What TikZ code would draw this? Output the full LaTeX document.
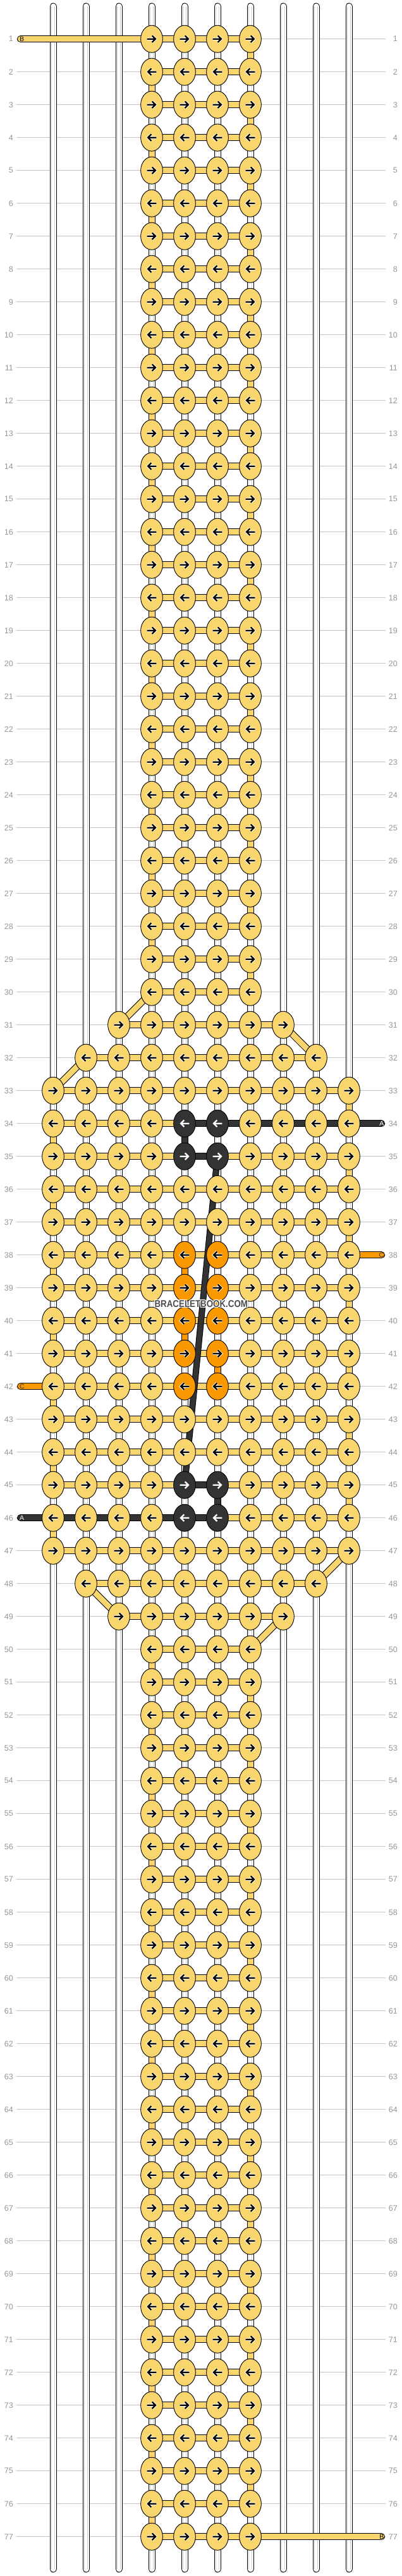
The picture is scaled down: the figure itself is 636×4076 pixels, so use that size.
\documentclass[tikz,border=0pt]{standalone}
\usepackage{fontspec}
\setmainfont{Liberation Sans}
\usepackage{graphicx}
\usetikzlibrary{shapes.geometric}
\definecolor{yel}{HTML}{F9D56E}
\definecolor{drk}{HTML}{333333}
\definecolor{org}{HTML}{FA9800}
\definecolor{rowgray}{HTML}{C3C3C3}
\definecolor{labgray}{HTML}{969696}
\definecolor{strandgray}{HTML}{CCCCCC}
\definecolor{wmgray}{HTML}{4D4D4D}
\pgfdeclarelayer{rowl}
\pgfdeclarelayer{strl}
\pgfdeclarelayer{conl}
\pgfdeclarelayer{fltl}
\pgfdeclarelayer{topl}
\pgfsetlayers{rowl,strl,conl,fltl,main,topl}
\newcommand\setrange[1]{%
  \ifnum#1<31 \def\kA{4}\else
  \ifnum#1>49 \def\kA{4}\else
  \ifnum#1=31 \def\kA{3}\else
  \ifnum#1=49 \def\kA{3}\else
  \ifnum#1=32 \def\kA{2}\else
  \ifnum#1=48 \def\kA{2}\else
  \def\kA{1}\fi\fi\fi\fi\fi\fi
  \pgfmathtruncatemacro\kB{11-\kA}}
\begin{document}
\begin{tikzpicture}[x=1pt,y=-1pt,
  knot/.style={ellipse, draw=black, line width=0.9pt, minimum width=34.7pt, minimum height=43pt, inner sep=0pt},
  bar/.style={draw=black, line width=1pt, double=#1, double distance=9pt},
  endbar/.style={bar=#1, line cap=round},
  strand/.style={draw=black, line width=1pt, double=white, double distance=9pt, line cap=round},
  strandin/.style={draw=strandgray, line width=0.8pt},
  rowline/.style={draw=rowgray, line width=1pt},
  rowlab/.style={text=labgray, font=\fontsize{12.5}{14}\selectfont, inner sep=0pt},
  endlab/.style={font=\fontsize{10.5}{12}\selectfont, inner sep=0pt},
  arrowline/.style={line width=2.3pt, line cap=butt, line join=miter},
  floatline/.style={draw=black, line width=1pt, double=drk, double distance=8pt},
  wm/.style={font=\bfseries\fontsize{15.5}{17}\selectfont, inner sep=0pt},
]
\useasboundingbox (0,0) rectangle (636,4076);
% knots, arrows, row labels
\foreach \rw in {1,...,77}{
  \setrange{\rw}
  \pgfmathsetmacro\yy{61.7+(\rw-1)*52}
  \ifodd\rw \def\dir{1}\else \def\dir{-1}\fi
  \node[rowlab,anchor=east] (ll-\rw) at (21,\yy) {\rw};
  \node[rowlab,anchor=east] (lr-\rw) at (629,\yy) {\rw};
  \begin{pgfonlayer}{rowl}
    \draw[rowline] (26,\yy) -- (610,\yy);
  \end{pgfonlayer}
  \foreach \cl in {\kA,...,\kB}{
    \pgfmathsetmacro\xx{84+(\cl-1)*52}
    \def\kc{0}
    \ifnum\cl>4 \ifnum\cl<7
      \ifnum\rw=34 \def\kc{1}\fi
      \ifnum\rw=35 \def\kc{1}\fi
      \ifnum\rw=45 \def\kc{1}\fi
      \ifnum\rw=46 \def\kc{1}\fi
      \ifnum\rw>37 \ifnum\rw<43 \def\kc{2}\fi\fi
    \fi\fi
    \ifcase\kc \def\kf{yel}\def\ac{black}\def\hc{white}%
    \or \def\kf{drk}\def\ac{white}\def\hc{drk}%
    \or \def\kf{org}\def\ac{black}\def\hc{white}\fi
    \node[knot, fill=\kf] (k-\rw-\cl) at (\xx,\yy) {};
    \begin{scope}[shift={(k-\rw-\cl.center)}, xscale=\dir]
      \draw[arrowline, draw=\hc, line width=4.2pt] (-7.3,0) -- (5,0) (0.6,-5.3) -- (5.9,0) -- (0.6,5.3);
      \draw[arrowline, draw=\ac] (-7.3,0) -- (5,0) (0.6,-5.3) -- (5.9,0) -- (0.6,5.3);
    \end{scope}
  }
}
% strands
\begin{pgfonlayer}{strl}
\foreach \cl in {1,...,10}{
  \pgfmathsetmacro\xx{84+(\cl-1)*52}
  \coordinate (st-\cl) at (\xx,10);
  \coordinate (sb-\cl) at (\xx,4065);
  \draw[strand] (st-\cl) -- (sb-\cl);
  \draw[strandin] ([xshift=-2.2pt]st-\cl) -- ([xshift=-2.2pt]sb-\cl);
  \draw[strandin] ([xshift=2.2pt]st-\cl) -- ([xshift=2.2pt]sb-\cl);
}
\end{pgfonlayer}
% connectors
\begin{pgfonlayer}{conl}
\foreach \rw in {1,...,77}{
  \setrange{\rw}
  \pgfmathtruncatemacro\kBm{\kB-1}
  \foreach \cl in {\kA,...,\kBm}{
    \pgfmathtruncatemacro\cn{\cl+1}
    \def\bc{yel}
    \ifnum\rw=34 \ifnum\cl>4 \def\bc{drk}\fi\fi
    \ifnum\rw=35 \ifnum\cl=5 \def\bc{drk}\fi\fi
    \ifnum\rw=45 \ifnum\cl=5 \def\bc{drk}\fi\fi
    \ifnum\rw=46 \ifnum\cl<6 \def\bc{drk}\fi\fi
    \draw[bar=\bc] (k-\rw-\cl.center) -- (k-\rw-\cn.center);
  }
}
\foreach \rw in {1,...,76}{
  \pgfmathtruncatemacro\rn{\rw+1}
  \setrange{\rw}\let\prA\kA\let\prB\kB
  \setrange{\rn}
  \ifodd\rw
    \draw[bar=yel] (k-\rw-\prB.center) -- (k-\rn-\kB.center);
  \else
    \draw[bar=yel] (k-\rw-\prA.center) -- (k-\rn-\kA.center);
  \fi
}
\draw[bar=drk] (k-34-5.center) -- (k-35-5.center);
\draw[bar=drk] (k-45-6.center) -- (k-46-6.center);
\draw[bar=org] (k-38-5.center) -- (k-39-5.center);
\draw[bar=org] (k-39-6.center) -- (k-40-6.center);
\draw[bar=org] (k-40-5.center) -- (k-41-5.center);
\draw[bar=org] (k-41-6.center) -- (k-42-6.center);
% end threads
\coordinate (eB1) at (32.5,61.7);
\coordinate (eB2) at (603.5,4013.7);
\coordinate (eA1) at (603.5,1777.7);
\coordinate (eC1) at (603.5,1985.7);
\coordinate (eC2) at (32.5,2193.7);
\coordinate (eA2) at (32.5,2401.7);
\draw[endbar=yel] (eB1) -- (k-1-4.center);
\draw[endbar=yel] (k-77-7.center) -- (eB2);
\draw[endbar=drk] (k-34-10.center) -- (eA1);
\draw[endbar=org] (k-38-10.center) -- (eC1);
\draw[endbar=org] (eC2) -- (k-42-1.center);
\draw[endbar=drk] (eA2) -- (k-46-1.center);
\end{pgfonlayer}
% floating thread
\begin{pgfonlayer}{fltl}
\draw[floatline] (k-35-6.center) -- (k-45-5.center);
\end{pgfonlayer}
% labels and watermark
\begin{pgfonlayer}{topl}
\node[endlab, anchor=west, text=black] (tB1) at (31,61.7) {B};
\node[endlab, anchor=east, text=black] (tB2) at (607.5,4013.7) {B};
\node[endlab, anchor=east, text=white] (tA1) at (607.5,1777.7) {A};
\node[endlab, anchor=east, text=black!80] (tC1) at (607.5,1985.7) {C};
\node[endlab, anchor=west, text=black!80] (tC2) at (31,2193.7) {C};
\node[endlab, anchor=west, text=white] (tA2) at (31,2401.7) {A};
\foreach \dx/\dy in {-1/0,1/0,0/-1,0/1,-1/-1,1/1,-1/1,1/-1}{
  \node[wm, text=white] at (318.3+\dx,2063+\dy) {\scalebox{0.86}[1]{BRACELETBOOK.COM}};
}
\node[wm, text=wmgray] (wmk) at (318.3,2063) {\scalebox{0.86}[1]{BRACELETBOOK.COM}};
\end{pgfonlayer}
\end{tikzpicture}
\end{document}
